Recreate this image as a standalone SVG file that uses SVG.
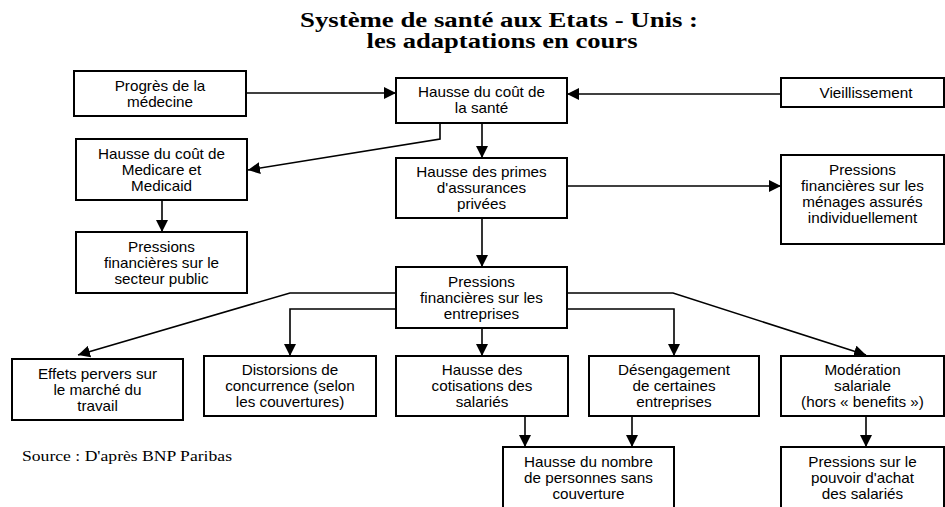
<svg xmlns="http://www.w3.org/2000/svg" width="945" height="507" viewBox="0 0 945 507">
<style>
.box{fill:#fff;stroke:#000;stroke-width:2}
.t{font-family:"Liberation Sans",Arial,sans-serif;font-size:14px;fill:#000;text-anchor:middle}
.title{font-family:"Liberation Serif","Times New Roman",serif;font-weight:bold;font-size:20px;fill:#000;text-anchor:middle}
.src{font-family:"Liberation Serif","Times New Roman",serif;font-size:14px;fill:#000}
.c{fill:none;stroke:#000;stroke-width:1.6;marker-end:url(#ah)}
</style>
<defs>
<marker id="ah" markerUnits="userSpaceOnUse" markerWidth="12" markerHeight="12" viewBox="0 0 12 12" refX="12" refY="6" orient="auto">
<path d="M0,0 L12,6 L0,12 z" fill="#000"/>
</marker>
</defs>
<rect width="945" height="507" fill="#fff"/>
<text class="title" x="499" y="27" textLength="398" lengthAdjust="spacingAndGlyphs">Système de santé aux Etats - Unis :</text>
<text class="title" x="502" y="48" textLength="271" lengthAdjust="spacingAndGlyphs">les adaptations en cours</text>
<text class="src" x="22" y="461" textLength="210" lengthAdjust="spacingAndGlyphs">Source : D'après BNP Paribas</text>

<g id="connectors">
<path class="c" d="M246,93 H396"/>
<path class="c" d="M781,94 H567"/>
<path class="c" d="M440,123 V139 L248,170"/>
<path class="c" d="M482,123 V158"/>
<path class="c" d="M567,186 H781"/>
<path class="c" d="M162,200 V232"/>
<path class="c" d="M482,218 V267"/>
<path class="c" d="M396,293 H290 L78,355"/>
<path class="c" d="M567,293 H673 L866,355"/>
<path class="c" d="M396,309 H290 V356"/>
<path class="c" d="M567,309 H674 V356"/>
<path class="c" d="M482,328 V356"/>
<path class="c" d="M525,416 V447"/>
<path class="c" d="M632,416 V447"/>
<path class="c" d="M866,416 V447"/>
</g>

<g id="progres"><rect class="box" x="74" y="71" width="172" height="45"/>
<g transform="translate(160 0) scale(1.09 1)"><text class="t" x="0" y="91">Progrès de la</text><text class="t" x="0" y="107">médecine</text></g></g>

<g id="sante"><rect class="box" x="396" y="78" width="171" height="45"/>
<g transform="translate(481.5 0) scale(1.09 1)"><text class="t" x="0" y="97">Hausse du coût de</text><text class="t" x="0" y="113">la santé</text></g></g>

<g id="vieillissement"><rect class="box" x="781" y="78" width="163" height="29"/>
<g transform="translate(866 0) scale(1.09 1)"><text class="t" x="0" y="98.5">Vieillissement</text></g></g>

<g id="medicare"><rect class="box" x="76" y="139" width="171" height="61"/>
<g transform="translate(161.5 0) scale(1.09 1)"><text class="t" x="0" y="159">Hausse du coût de</text><text class="t" x="0" y="175">Medicare et</text><text class="t" x="0" y="191">Medicaid</text></g></g>

<g id="public"><rect class="box" x="76" y="232" width="171" height="61"/>
<g transform="translate(161.5 0) scale(1.09 1)"><text class="t" x="0" y="252">Pressions</text><text class="t" x="0" y="268">financières sur le</text><text class="t" x="0" y="284">secteur public</text></g></g>

<g id="primes"><rect class="box" x="396" y="158" width="171" height="60"/>
<g transform="translate(481.5 0) scale(1.09 1)"><text class="t" x="0" y="177.5">Hausse des primes</text><text class="t" x="0" y="193.5">d'assurances</text><text class="t" x="0" y="209.5">privées</text></g></g>

<g id="menages"><rect class="box" x="781" y="155" width="163" height="89"/>
<g transform="translate(862.5 0) scale(1.09 1)"><text class="t" x="0" y="175.5">Pressions</text><text class="t" x="0" y="191.5">financières sur les</text><text class="t" x="0" y="207.5">ménages assurés</text><text class="t" x="0" y="223.5">individuellement</text></g></g>

<g id="entreprises"><rect class="box" x="396" y="267" width="171" height="61"/>
<g transform="translate(481.5 0) scale(1.09 1)"><text class="t" x="0" y="287">Pressions</text><text class="t" x="0" y="303">financières sur les</text><text class="t" x="0" y="319">entreprises</text></g></g>

<g id="effets"><rect class="box" x="12" y="359" width="171" height="61"/>
<g transform="translate(97.5 0) scale(1.09 1)"><text class="t" x="0" y="379">Effets pervers sur</text><text class="t" x="0" y="395">le marché du</text><text class="t" x="0" y="411">travail</text></g></g>

<g id="distorsions"><rect class="box" x="204" y="356" width="172" height="60"/>
<g transform="translate(290 0) scale(1.09 1)"><text class="t" x="0" y="375.5">Distorsions de</text><text class="t" x="0" y="391.5">concurrence (selon</text><text class="t" x="0" y="407.5">les couvertures)</text></g></g>

<g id="cotisations"><rect class="box" x="396" y="356" width="172" height="60"/>
<g transform="translate(482 0) scale(1.09 1)"><text class="t" x="0" y="375.5">Hausse des</text><text class="t" x="0" y="391.5">cotisations des</text><text class="t" x="0" y="407.5">salariés</text></g></g>

<g id="desengagement"><rect class="box" x="589" y="356" width="170" height="60"/>
<g transform="translate(674 0) scale(1.09 1)"><text class="t" x="0" y="375.5">Désengagement</text><text class="t" x="0" y="391.5">de certaines</text><text class="t" x="0" y="407.5">entreprises</text></g></g>

<g id="moderation"><rect class="box" x="781" y="356" width="163" height="60"/>
<g transform="translate(862.5 0) scale(1.09 1)"><text class="t" x="0" y="375.5">Modération</text><text class="t" x="0" y="391.5">salariale</text><text class="t" x="0" y="407.5">(hors « benefits »)</text></g></g>

<g id="personnes"><rect class="box" x="503" y="447" width="171" height="65"/>
<g transform="translate(588.5 0) scale(1.09 1)"><text class="t" x="0" y="467.5">Hausse du nombre</text><text class="t" x="0" y="483.5">de personnes sans</text><text class="t" x="0" y="499.5">couverture</text></g></g>

<g id="pouvoir"><rect class="box" x="781" y="447" width="163" height="65"/>
<g transform="translate(862.5 0) scale(1.09 1)"><text class="t" x="0" y="467.5">Pressions sur le</text><text class="t" x="0" y="483.5">pouvoir d'achat</text><text class="t" x="0" y="499.5">des salariés</text></g></g>
</svg>
